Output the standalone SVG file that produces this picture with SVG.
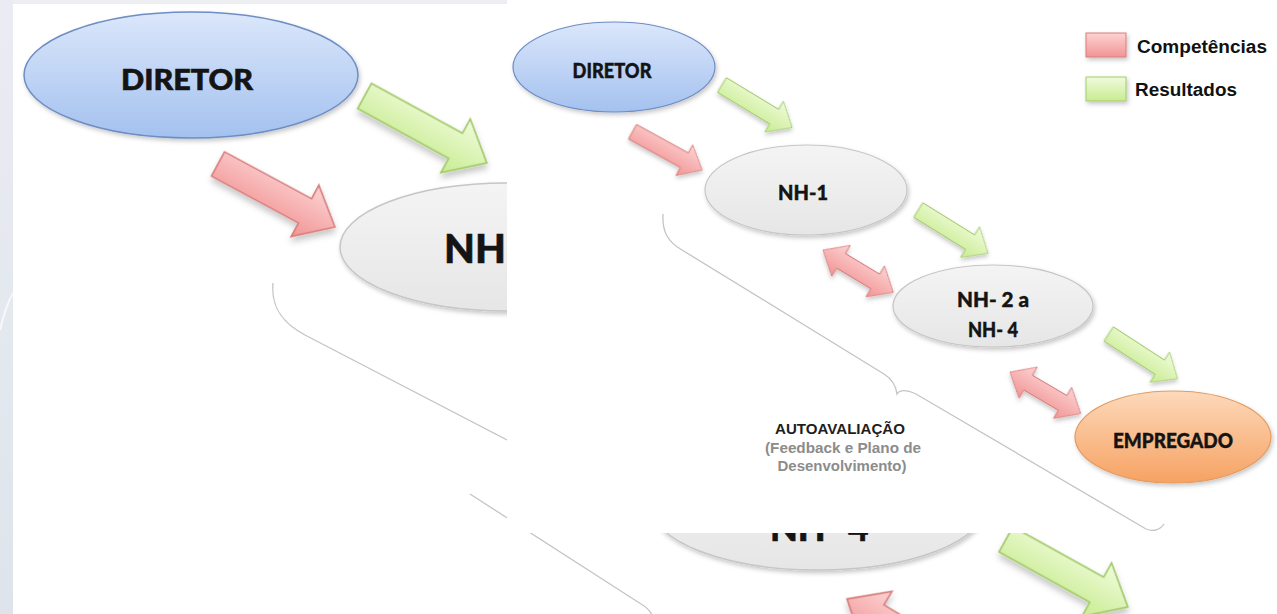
<svg xmlns="http://www.w3.org/2000/svg" width="1277" height="614" viewBox="0 0 1277 614">
<defs>
<style>
.lbl{font-family:Lato,"Open Sans","Liberation Sans",sans-serif;font-weight:900;fill:#141414;stroke:#141414;stroke-width:0.4;text-anchor:middle}
.lbs{font-family:Lato,"Open Sans","Liberation Sans",sans-serif;font-weight:900;fill:#141414;stroke:#141414;stroke-width:0.6}
.leg{font-family:"Liberation Sans",Arial,sans-serif;font-weight:700;fill:#111}
.note{font-family:"Liberation Sans",Arial,sans-serif;font-weight:700;text-anchor:middle}
.brace{fill:none;stroke:#c4c4c4;stroke-width:1.3}
.ga{fill:url(#gGreen);stroke:#a3cb6c;stroke-width:1}
.ra{fill:url(#gRed);stroke:#d87c7c;stroke-width:1}
</style>
<linearGradient id="gBlue" x1="0" y1="0" x2="0" y2="1"><stop offset="0" stop-color="#dbe7fb"/><stop offset="1" stop-color="#a4c1ef"/></linearGradient>
<linearGradient id="gGray" x1="0" y1="0" x2="0" y2="1"><stop offset="0" stop-color="#f4f4f4"/><stop offset="1" stop-color="#e6e6e6"/></linearGradient>
<linearGradient id="gOrange" x1="0" y1="0" x2="0" y2="1"><stop offset="0" stop-color="#fdd9bb"/><stop offset="1" stop-color="#f6a262"/></linearGradient>
<linearGradient id="gRed" x1="0" y1="0" x2="0" y2="1"><stop offset="0" stop-color="#fcd3d3"/><stop offset="1" stop-color="#f29494"/></linearGradient>
<linearGradient id="gGreen" x1="0" y1="0" x2="0" y2="1"><stop offset="0" stop-color="#f0fbdc"/><stop offset="1" stop-color="#c8ec90"/></linearGradient>
<linearGradient id="gStrip" x1="0" y1="0" x2="0" y2="1"><stop offset="0" stop-color="#e9ecf2"/><stop offset="1" stop-color="#dfe4ec"/></linearGradient>
<filter id="sh" x="-20%" y="-20%" width="140%" height="150%"><feDropShadow dx="1.5" dy="2.5" stdDeviation="2" flood-color="#000" flood-opacity="0.22"/></filter>
<path id="arr" d="M0,-8.5 L61,-8.5 L61,-18 L82,0 L61,18 L61,8.5 L0,8.5 Z"/>
<path id="dbl" d="M0,0 L21,-18 L21,-8.5 L61,-8.5 L61,-18 L82,0 L61,18 L61,8.5 L21,8.5 L21,18 Z"/>
<clipPath id="bgClip"><path clip-rule="evenodd" d="M0,0 H1277 V614 H0 Z M507,0 H1277 V533 H507 Z"/></clipPath>
</defs>

<rect width="1277" height="614" fill="#ffffff"/>

<g id="background" clip-path="url(#bgClip)">
  <rect x="0" y="0" width="1277" height="4" fill="#eceef2"/>
  <rect x="0" y="0" width="13" height="614" fill="url(#gStrip)"/>
  <path d="M0,330 Q6,305 13,293" fill="none" stroke="#f7f8fa" stroke-width="2"/>
  <g id="bg-diretor">
    <ellipse cx="191" cy="75" rx="167" ry="63" fill="url(#gBlue)" stroke="#6d8dc4" stroke-width="1.5" filter="url(#sh)"/>
    <text class="lbl" x="187" y="90" font-size="28" textLength="132" lengthAdjust="spacingAndGlyphs" style="stroke-width:0.6">DIRETOR</text>
  </g>
  <g id="bg-nh1">
    <ellipse cx="507" cy="247" rx="167" ry="64" fill="url(#gGray)" stroke="#c6c6c6" stroke-width="1.5" filter="url(#sh)"/>
    <text class="lbs" x="444" y="263" font-size="40">NH-1</text>
  </g>
  <g id="bg-nh2">
    <ellipse cx="818" cy="506" rx="167" ry="64" fill="url(#gGray)" stroke="#c6c6c6" stroke-width="1.5" filter="url(#sh)"/>
    <text class="lbs" x="770" y="541" font-size="36">NH- 4</text>
  </g>
  <g id="bg-connectors">
    <use href="#arr" class="ga" filter="url(#sh)" transform="translate(364.6,96) rotate(28.7) scale(1.7)"/>
    <use href="#arr" class="ra" filter="url(#sh)" transform="translate(218,164) rotate(28.3) scale(1.62)"/>
    <use href="#arr" class="ga" filter="url(#sh)" transform="translate(1006,539.4) rotate(29) scale(1.7)"/>
    <use href="#dbl" class="ra" filter="url(#sh)" transform="translate(847,599) rotate(31) scale(1.65)"/>
    <path class="brace" d="M273,283 C271,305 280,322 305,335 L507,440"/>
    <path class="brace" d="M470,494 L641,604 C648,608 652,612 654,620"/>
  </g>
</g>

<rect id="panel" x="507" y="0" width="770" height="533" fill="#ffffff"/>

<g id="connectors">
  <path class="brace" d="M663,214 C662,232 668,242 682,250 L884,374 C892,379 896,386 897,394 C900,389 907,390 916,394 L1146,529 C1153,532 1160,530 1164,524"/>
  <use href="#arr" class="ga" filter="url(#sh)" transform="translate(722,85) rotate(31.2)"/>
  <use href="#arr" class="ra" filter="url(#sh)" transform="translate(632.5,131.7) rotate(28.8) scale(0.97)"/>
  <use href="#arr" class="ga" filter="url(#sh)" transform="translate(918.3,210) rotate(31.8)"/>
  <use href="#arr" class="ga" filter="url(#sh)" transform="translate(1108.7,334) rotate(33)"/>
  <use href="#dbl" class="ra" filter="url(#sh)" transform="translate(823,250) rotate(31)"/>
  <use href="#dbl" class="ra" filter="url(#sh)" transform="translate(1010,372) rotate(30.4)"/>
</g>

<g id="diretor">
  <ellipse cx="614" cy="67" rx="101" ry="45" fill="url(#gBlue)" stroke="#6d8dc4" stroke-width="1.2" filter="url(#sh)"/>
  <text class="lbl" x="612" y="78" font-size="20" textLength="79" lengthAdjust="spacingAndGlyphs">DIRETOR</text>
</g>
<g id="nh1">
  <ellipse cx="806" cy="190" rx="101" ry="45" fill="url(#gGray)" stroke="#c6c6c6" stroke-width="1.2" filter="url(#sh)"/>
  <text class="lbl" x="803" y="200" font-size="20" textLength="50" lengthAdjust="spacingAndGlyphs">NH-1</text>
</g>
<g id="nh2">
  <ellipse cx="993" cy="306" rx="100" ry="41" fill="url(#gGray)" stroke="#c6c6c6" stroke-width="1.2" filter="url(#sh)"/>
  <text class="lbl" x="993" y="307" font-size="20" textLength="72" lengthAdjust="spacingAndGlyphs">NH- 2 a</text>
  <text class="lbl" x="993" y="337" font-size="20" textLength="50" lengthAdjust="spacingAndGlyphs">NH- 4</text>
</g>
<g id="empregado">
  <ellipse cx="1173" cy="437" rx="98" ry="46" fill="url(#gOrange)" stroke="#e39b5f" stroke-width="1.2" filter="url(#sh)"/>
  <text class="lbl" x="1173" y="448" font-size="20" textLength="120" lengthAdjust="spacingAndGlyphs">EMPREGADO</text>
</g>
<g id="autoavaliacao">
  <text class="note" x="840" y="434" font-size="14" fill="#1e1e1e" textLength="130" lengthAdjust="spacingAndGlyphs">AUTOAVALIAÇÃO</text>
  <text class="note" x="843" y="453" font-size="14" fill="#8c8c8c" textLength="156" lengthAdjust="spacingAndGlyphs">(Feedback e Plano de</text>
  <text class="note" x="842" y="471" font-size="14" fill="#8c8c8c" textLength="129" lengthAdjust="spacingAndGlyphs">Desenvolvimento)</text>
</g>
<g id="legend">
  <rect x="1086" y="33" width="40" height="24" fill="url(#gRed)" stroke="#d87c7c" stroke-width="1" filter="url(#sh)"/>
  <text class="leg" x="1137" y="53" font-size="18" textLength="130" lengthAdjust="spacingAndGlyphs">Competências</text>
  <rect x="1086" y="77" width="40" height="24" fill="url(#gGreen)" stroke="#a3cb6c" stroke-width="1" filter="url(#sh)"/>
  <text class="leg" x="1135" y="96" font-size="18" textLength="102" lengthAdjust="spacingAndGlyphs">Resultados</text>
</g>
</svg>
